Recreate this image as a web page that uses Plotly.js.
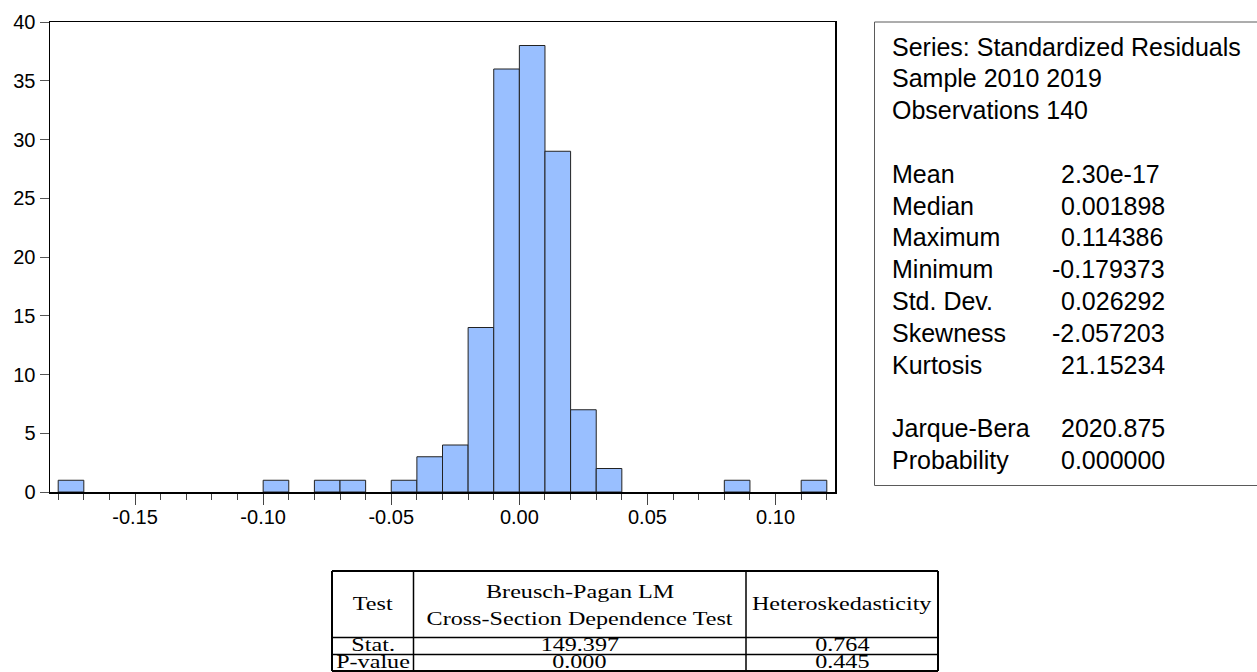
<!DOCTYPE html>
<html>
<head>
<meta charset="utf-8">
<script src="https://cdn.plot.ly/plotly-3.0.1.min.js"></script>
<style>
  html, body { margin: 0; padding: 0; background: #fff; }
  #chart { width: 1257px; height: 672px; }
</style>
</head>
<body>
<div id="chart"></div>
<script>
// ---------------- data ----------------
const binLow   = [-0.18, -0.10, -0.08, -0.07, -0.05, -0.04, -0.03, -0.02, -0.01, 0.00, 0.01, 0.02, 0.03, 0.08, 0.11];
const counts   = [1, 1, 1, 1, 1, 3, 4, 14, 36, 38, 29, 7, 2, 1, 1];
const binWidth = 0.01;

const xTickVals = [-0.15, -0.10, -0.05, 0.00, 0.05, 0.10];
const xTickText = ['-0.15', '-0.10', '-0.05', '0.00', '0.05', '0.10'];
const yTickVals = [0, 5, 10, 15, 20, 25, 30, 35, 40];
const yTickText = ['0', '5', '10', '15', '20', '25', '30', '35', '40'];

const headerLines = ['Series: Standardized Residuals', 'Sample 2010 2019', 'Observations 140'];
const statNames   = ['Mean', 'Median', 'Maximum', 'Minimum', 'Std. Dev.', 'Skewness', 'Kurtosis'];
const statValues  = ['2.30e-17', '0.001898', '0.114386', '-0.179373', '0.026292', '-2.057203', '21.15234'];
const testNames   = ['Jarque-Bera', 'Probability'];
const testValues  = ['2020.875', '0.000000'];

const tableHeader  = ['Test', 'Breusch-Pagan LM', 'Cross-Section Dependence Test', 'Heteroskedasticity'];
const rowLabels    = ['Stat.', 'P-value'];
const bpValues     = ['149.397', '0.000'];
const hetValues    = ['0.764', '0.445'];

// ---------------- layout helpers (pixel -> paper) ----------------
const W = 1257, H = 672;
const L = 50, R = 835, T = 22, B = 492;
const px = v => (v - L) / (R - L);
const py = v => (B - v) / (B - T);

const sansFont = 'Liberation Sans, Arial, Helvetica, sans-serif';
const serifFont = 'Liberation Serif, Times New Roman, Times, serif';

const annotations = [];
const shapes = [];

// stats box
shapes.push({type: 'rect', xref: 'paper', yref: 'paper',
  x0: px(874.5), x1: px(1262), y0: py(485.5), y1: py(22),
  line: {color: '#5a5a5a', width: 1}, fillcolor: 'rgba(0,0,0,0)'});

const lineY = i => 46.5 + i * 31.8;
const labelX = 890.5, valueX = 1059.5, minusW = 8.3;
function statText(text, xpix, ypix) {
  annotations.push({xref: 'paper', yref: 'paper', x: px(xpix), y: py(ypix),
    xanchor: 'left', yanchor: 'middle', showarrow: false, text: text, borderpad: 0,
    font: {family: sansFont, size: 25, color: '#000'}});
}
headerLines.forEach((t, i) => statText(t, labelX, lineY(i)));
statNames.forEach((t, i) => {
  statText(t, labelX, lineY(4 + i));
  const v = statValues[i];
  statText(v, v.startsWith('-') ? valueX - minusW : valueX, lineY(4 + i));
});
testNames.forEach((t, i) => {
  statText(t, labelX, lineY(12 + i));
  const v = testValues[i];
  statText(v, v.startsWith('-') ? valueX - minusW : valueX, lineY(12 + i));
});

// table
const tL = 332, tC1 = 413.5, tC2 = 746, tR = 938;
const tTop = 571, tH1 = 637.5, tH2 = 654.5, tBot = 671;
const outer = {color: '#000', width: 2};
const inner = {color: '#000', width: 1.5};
[[tL, tTop, tR, tTop, outer], [tL, tH1, tR, tH1, inner], [tL, tH2, tR, tH2, inner], [tL, tBot, tR, tBot, outer],
 [tL, tTop, tL, tBot, outer], [tC1, tTop, tC1, tBot, inner], [tC2, tTop, tC2, tBot, inner], [tR, tTop, tR, tBot, outer]]
 .forEach(s => shapes.push({type: 'line', xref: 'paper', yref: 'paper',
   x0: px(s[0]), y0: py(s[1]), x1: px(s[2]), y1: py(s[3]), line: s[4]}));

const tableIdx = [];
function tableText(text, xpix, ypix) {
  tableIdx.push(annotations.length);
  annotations.push({xref: 'paper', yref: 'paper', x: px(xpix), y: py(ypix),
    xanchor: 'center', yanchor: 'middle', showarrow: false, text: text, borderpad: 0,
    font: {family: serifFont, size: 19, color: '#000'}});
}
const c1 = (tL + tC1) / 2, c2 = (tC1 + tC2) / 2, c3 = (tC2 + tR) / 2;
tableText(tableHeader[0], c1, 603.5);
tableText(tableHeader[1], c2, 591.5);
tableText(tableHeader[2], c2, 618.5);
tableText(tableHeader[3], c3, 603.5);
const rowY = [644.5, 661.5];
rowLabels.forEach((t, i) => {
  tableText(t, c1, rowY[i]);
  tableText(bpValues[i], c2, rowY[i]);
  tableText(hetValues[i], c3, rowY[i]);
});

// ---------------- plot ----------------
const trace = {
  type: 'bar', x: binLow, y: counts, width: binWidth, offset: 0,
  marker: {color: '#99BFFF', line: {color: '#222', width: 1}},
  hoverinfo: 'x+y'
};

const tickFont = {family: sansFont, size: 20, color: '#000'};
const layout = {
  width: W, height: H,
  margin: {l: L, r: W - R, t: T, b: H - B, pad: 0},
  paper_bgcolor: '#fff', plot_bgcolor: '#fff',
  showlegend: false, bargap: 0,
  xaxis: {
    range: [-0.1832, 0.1232], tickmode: 'array', tickvals: xTickVals, ticktext: xTickText,
    ticks: 'outside', ticklen: 11, tickwidth: 1, tickcolor: '#444', ticklabelstandoff: -5,
    minor: {tickmode: 'linear', tick0: 0, dtick: binWidth, ticks: 'outside', ticklen: 6, tickwidth: 1, tickcolor: '#444', showgrid: false},
    showline: true, linecolor: '#000', linewidth: 1.5, mirror: true,
    showgrid: false, zeroline: false, tickfont: tickFont, fixedrange: true
  },
  yaxis: {
    range: [0, 40], tickmode: 'array', tickvals: yTickVals, ticktext: yTickText,
    ticks: 'outside', ticklen: 9, tickwidth: 1, tickcolor: '#555',
    showline: true, linecolor: '#000', linewidth: 1.5, mirror: true,
    showgrid: false, zeroline: false, tickfont: tickFont, fixedrange: true
  },
  shapes: shapes,
  annotations: annotations
};

Plotly.newPlot('chart', [trace], layout, {displayModeBar: false, staticPlot: true}).then(gd => {
  // the reference table text is horizontally stretched
  gd.querySelectorAll('g.annotation').forEach(g => {
    const i = +g.getAttribute('data-index');
    if (tableIdx.indexOf(i) >= 0) {
      const t = g.querySelector('text');
      if (t) {
        t.style.transformBox = 'fill-box';
        t.style.transformOrigin = 'center';
        t.style.transform = 'scaleX(1.27)';
      }
    }
  });
});
</script>
</body>
</html>
